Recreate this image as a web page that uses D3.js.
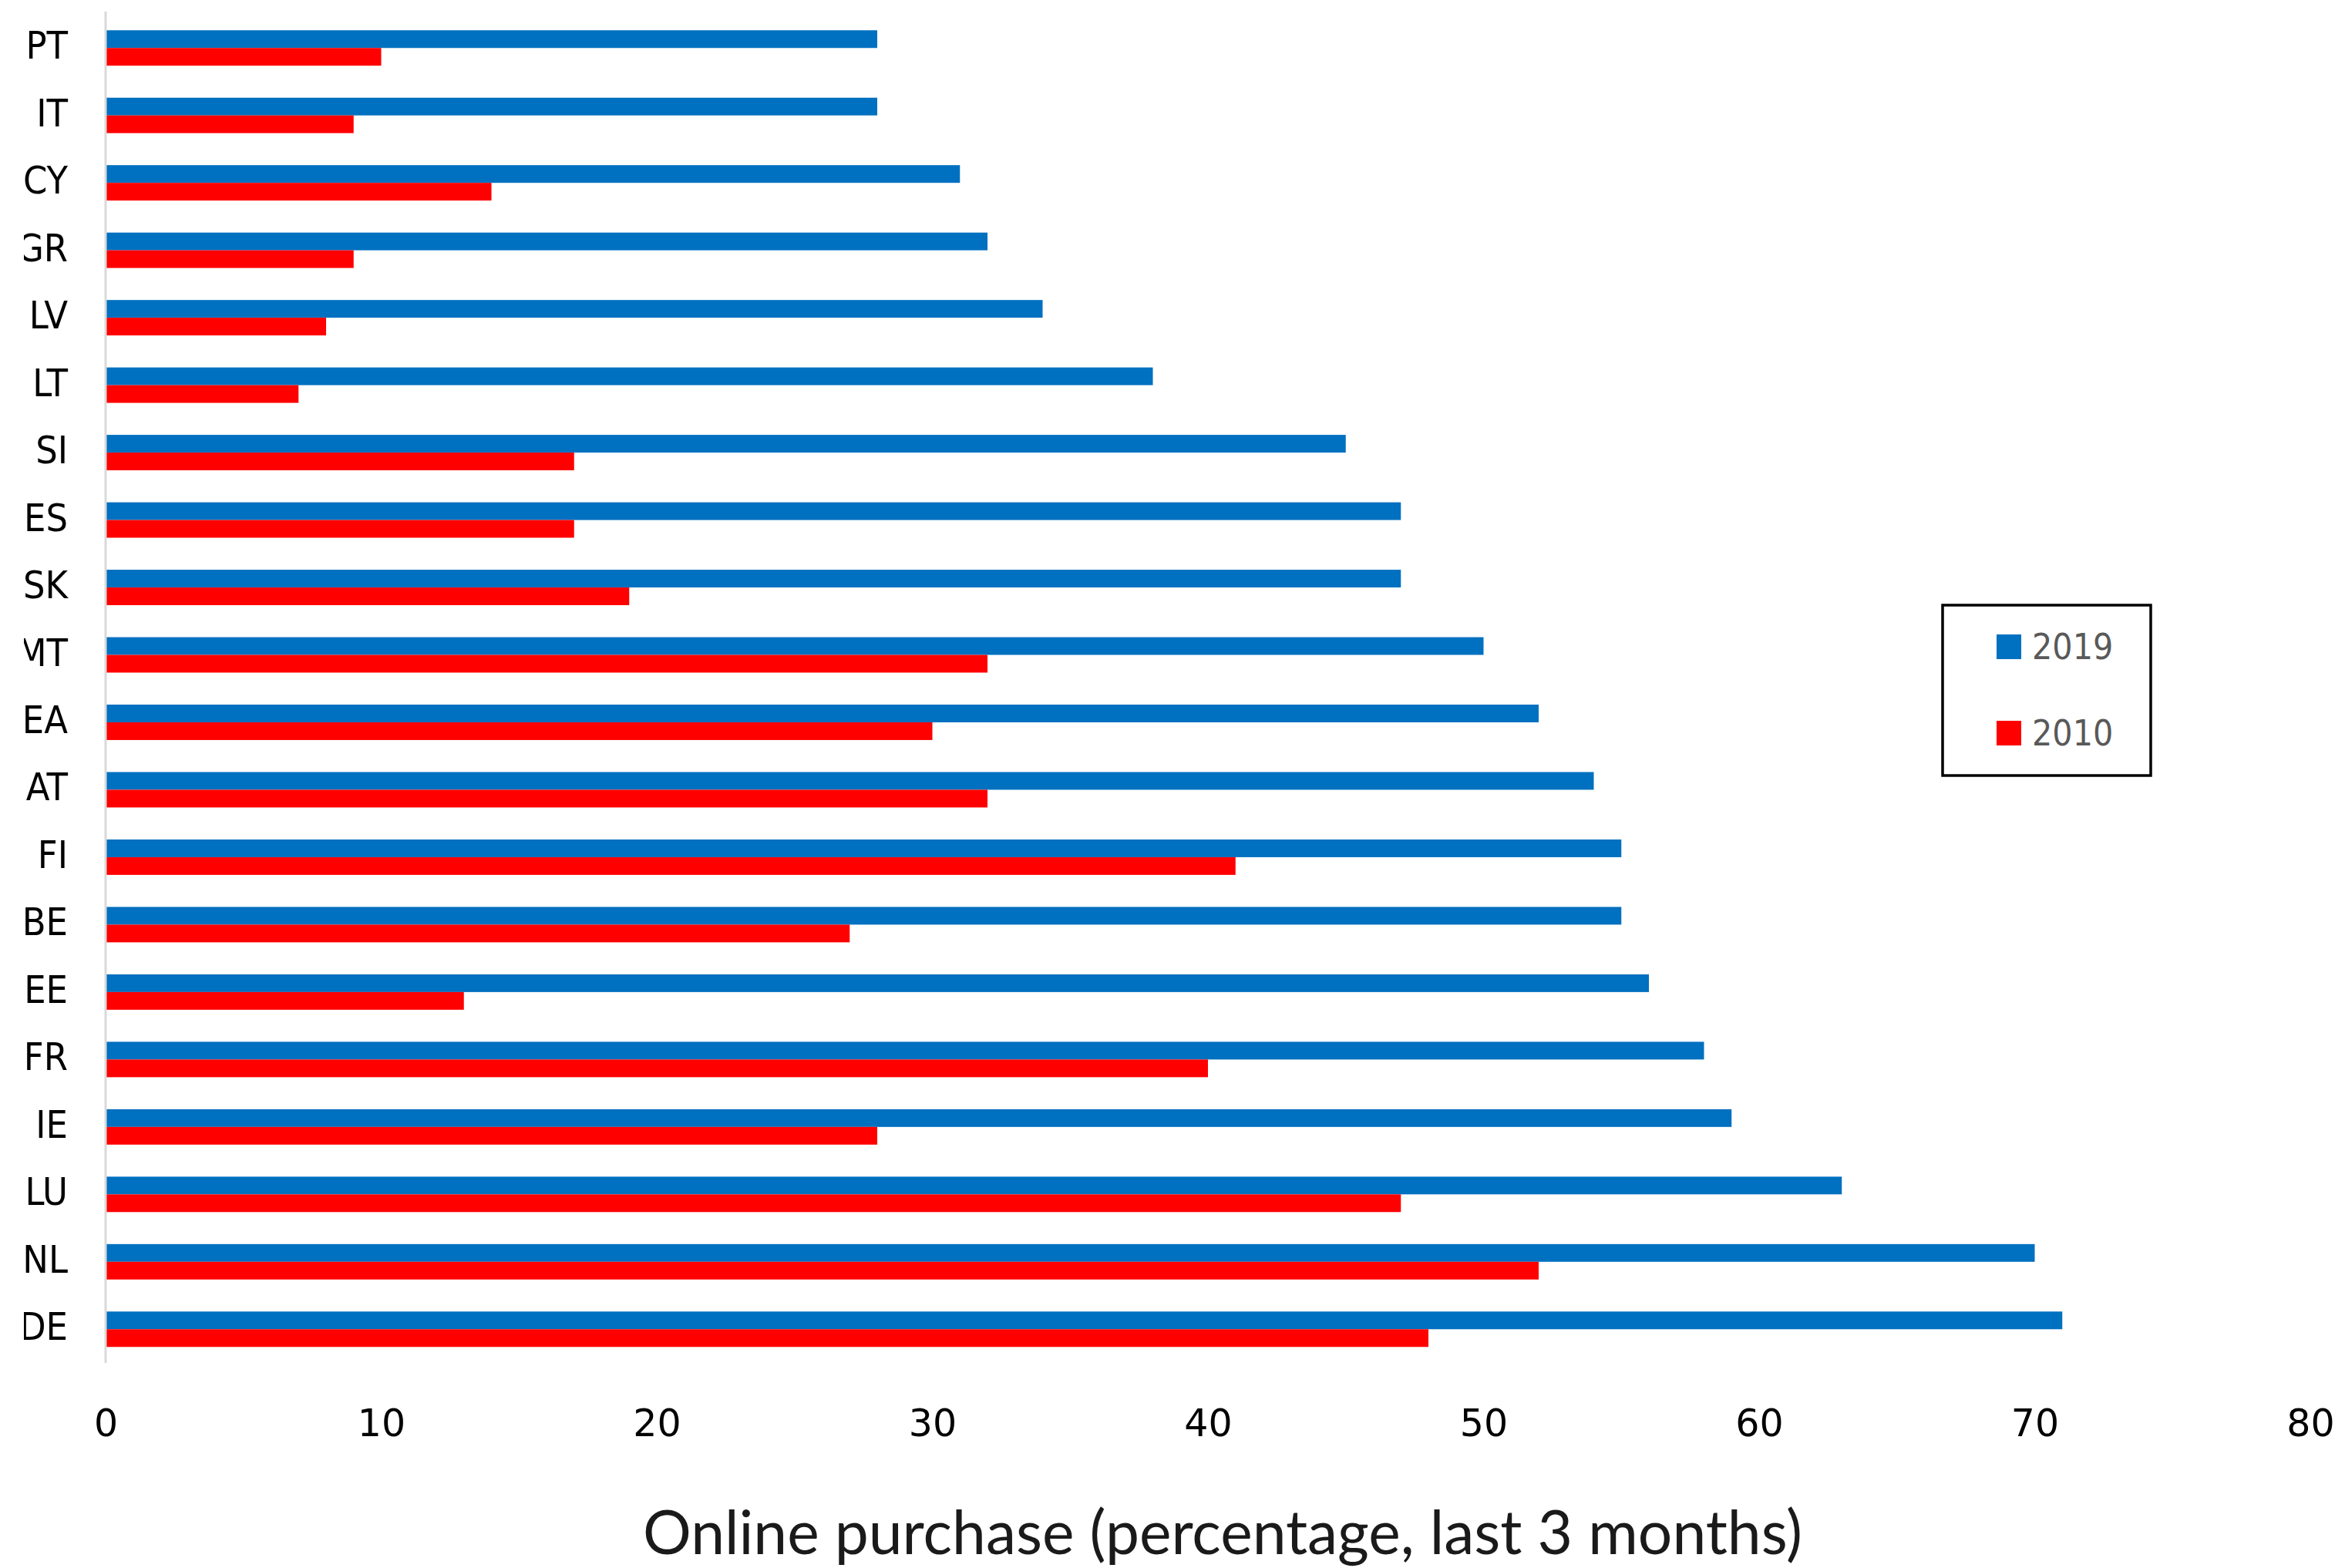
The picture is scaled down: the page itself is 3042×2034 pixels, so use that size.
<!DOCTYPE html>
<html>
<head>
<meta charset="utf-8">
<script src="https://cdn.jsdelivr.net/npm/d3@7"></script>
<style>
  html, body { margin: 0; padding: 0; background: #fff; }
  svg { display: block; }
</style>
</head>
<body>
<svg id="chart" width="3042" height="2034"></svg>
<script>
// ---- data ----
const countries = ["PT","IT","CY","GR","LV","LT","SI","ES","SK","MT","EA","AT","FI","BE","EE","FR","IE","LU","NL","DE"];
const values2019 = [28,28,31,32,34,38,45,47,47,50,52,54,55,55,56,58,59,63,70,71];
const values2010 = [10,9,14,9,8,7,17,17,19,32,30,32,41,27,13,40,28,47,52,48];
const seriesNames = ["2019","2010"];
const xTicks = [0,10,20,30,40,50,60,70,80];
const xTitle = "Online purchase (percentage, last 3 months)";

// ---- layout ----
const W = 3042, H = 2034;
const svg = d3.select("#chart");
const colors = d3.scaleOrdinal().domain(seriesNames).range(["#0070C0", "#FF0000"]);

const x = d3.scaleLinear().domain([0, 80]).range([137, 2997]);
const y = d3.scaleBand().domain(countries).range([18.5, 1768]).paddingInner(0.475).paddingOuter(0.2375);
const ySub = d3.scaleBand().domain(seriesNames).range([0, y.bandwidth()]);

const rows = countries.map((c, i) => ({ country: c, values: [
  { series: "2019", value: values2019[i] },
  { series: "2010", value: values2010[i] }
]}));

// bars
const g = svg.append("g");
g.selectAll("g.row").data(rows).join("g")
  .attr("class", "row")
  .attr("transform", d => `translate(0,${y(d.country)})`)
  .selectAll("rect").data(d => d.values).join("rect")
  .attr("x", x(0))
  .attr("y", d => ySub(d.series))
  .attr("width", d => x(d.value) - x(0))
  .attr("height", ySub.bandwidth())
  .attr("fill", d => colors(d.series));

// vertical axis line
svg.append("line")
  .attr("x1", x(0)).attr("x2", x(0))
  .attr("y1", 15).attr("y2", 1768)
  .attr("stroke", "#d9d9d9").attr("stroke-width", 3);

// category labels (clipped on the left like the reference)
svg.append("clipPath").attr("id", "leftclip")
  .append("rect").attr("x", 31).attr("y", 0).attr("width", 200).attr("height", H);
const clipG = svg.append("g").attr("clip-path", "url(#leftclip)");
const yAxis = d3.axisLeft(y).tickSize(0).tickPadding(0);
const yg = clipG.append("g")
  .attr("transform", "translate(88,0)")
  .call(yAxis);
yg.select(".domain").remove();
yg.selectAll("text")
  .attr("font-family", "'DejaVu Sans Condensed', 'DejaVu Sans', sans-serif")
  .attr("font-size", 50)
  .attr("fill", "#000")
  .attr("x", 0)
  .attr("dy", "0.28em");

// x axis tick labels
const xAxis = d3.axisBottom(x).tickValues(xTicks).tickSize(0).tickFormat(d3.format("d"));
const xg = svg.append("g").attr("transform", "translate(0,1768)").call(xAxis);
xg.select(".domain").remove();
xg.selectAll("text")
  .attr("font-family", "'DejaVu Sans', sans-serif")
  .attr("font-size", 49)
  .attr("fill", "#000")
  .attr("y", 77)
  .attr("dy", "0.36em");

// x axis title, fitted to reference width
const title = svg.append("text")
  .attr("x", (834 + 2338) / 2)
  .attr("y", 2016)
  .attr("text-anchor", "middle")
  .attr("font-family", "Lato, 'Open Sans', sans-serif")
  .attr("font-size", 80)
  .attr("fill", "#1a1a1a")
  .text(xTitle);
const tw = title.node().getComputedTextLength();
title.attr("font-size", 80 * 1504 / tw);

// legend
const lg = svg.append("g");
lg.append("rect")
  .attr("x", 2520).attr("y", 785).attr("width", 270).attr("height", 221)
  .attr("fill", "#fff").attr("stroke", "#000").attr("stroke-width", 3.5);
const legY = d3.scalePoint().domain(seriesNames).range([839, 951]);
const items = lg.selectAll("g.item").data(seriesNames).join("g")
  .attr("class", "item")
  .attr("transform", d => `translate(2590,${legY(d)})`);
items.append("rect")
  .attr("x", 0).attr("y", -16).attr("width", 32).attr("height", 32)
  .attr("fill", d => colors(d));
items.append("text")
  .attr("x", 46).attr("y", 0).attr("dy", "0.34em")
  .attr("font-family", "'DejaVu Sans Condensed', 'DejaVu Sans', sans-serif")
  .attr("font-size", 46)
  .attr("fill", "#595959")
  .text(d => d);
</script>
</body>
</html>
